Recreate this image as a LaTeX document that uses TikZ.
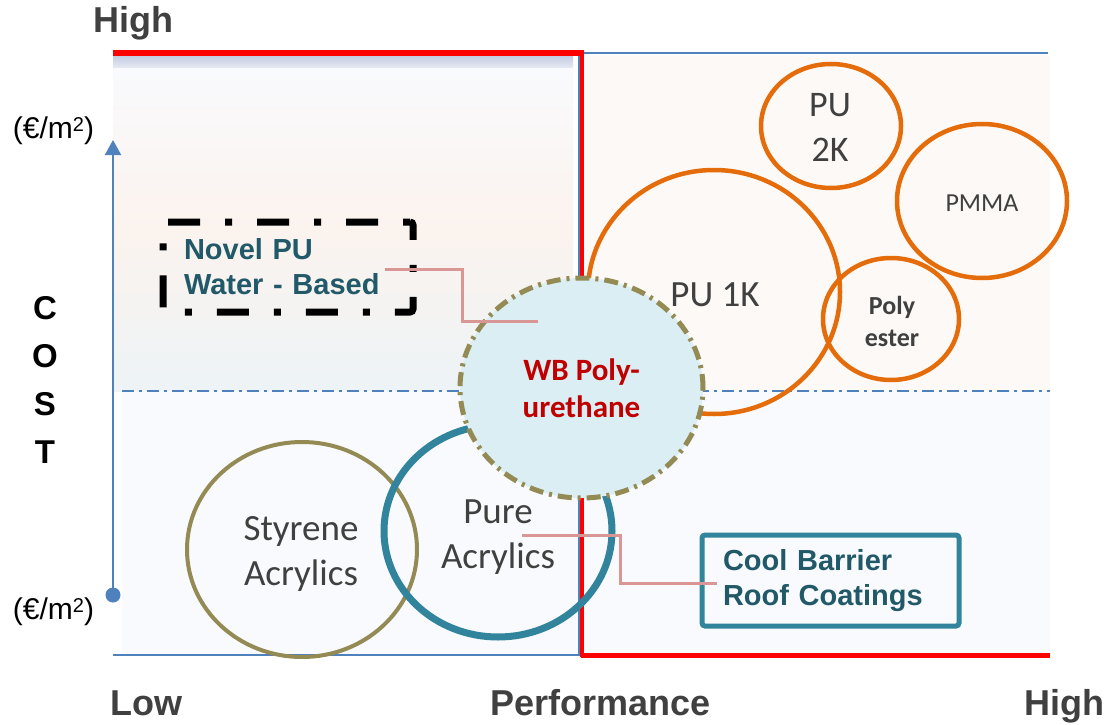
\documentclass[tikz,border=0pt]{standalone}
\usepackage{fontspec}
\setmainfont{Carlito}
\newfontfamily\arialf{Liberation Sans}
\usetikzlibrary{arrows.meta,shapes.geometric}
\definecolor{axisblue}{HTML}{4F81BD}
\definecolor{redline}{HTML}{FF0000}
\definecolor{orangec}{HTML}{E46C0A}
\definecolor{olivec}{HTML}{948A54}
\definecolor{tealc}{HTML}{31849B}
\definecolor{tealtxt}{HTML}{215968}
\definecolor{pinkc}{HTML}{D99694}
\definecolor{graytxt}{HTML}{404040}
\definecolor{wbred}{HTML}{C00000}
\definecolor{wbfill}{HTML}{DAEEF3}
\definecolor{bgtr}{HTML}{FDF9F6}
\definecolor{bgbot}{HTML}{F8FAFD}
\definecolor{bgtla}{HTML}{F9FAFD}
\definecolor{bgtlb}{HTML}{FBF3EE}
\definecolor{bgtlc}{HTML}{EDF3F6}
\definecolor{banda}{HTML}{C3CAE2}
\definecolor{bandb}{HTML}{E6EAF4}
\begin{document}
\begin{tikzpicture}[x=1pt,y=-1pt,
  bubble/.style={ellipse, draw, inner sep=0pt, outer sep=0pt},
  orangebub/.style={bubble, draw=orangec, line width=4.5pt},
  lbl/.style={inner sep=0pt, text=graytxt, align=center, font=\fontsize{37}{45}\selectfont},
  axislbl/.style={inner sep=0pt, text=graytxt, font=\arialf\bfseries\fontsize{36}{42}\selectfont},
  unitlbl/.style={inner sep=0pt, text=black, font=\arialf\fontsize{30}{36}\selectfont},
  conn/.style={draw=pinkc, line width=3pt},
  boxtxt/.style={text=tealtxt, font=\arialf\bfseries\fontsize{29}{35}\selectfont, align=left, outer sep=0pt, inner ysep=0pt},
]
\useasboundingbox (0,0) rectangle (1109,725);
\fill[white] (0,0) rectangle (1109,725);

% backgrounds
\shade[top color=bgtla, bottom color=bgtlc, middle color=bgtlb] (113,68) rectangle (573,391);
\shade[top color=banda, bottom color=bandb] (113,55) rectangle (573,68);
\fill[bgtr] (585,55) rectangle (1050,391);
\fill[bgbot] (122,391) rectangle (1050,655);

% thin blue frame lines
\draw[axisblue, line width=1.5pt] (113,655) -- (579,655) -- (579,53) -- (1048,53);
% dash-dot middle line
\draw[axisblue, line width=1.5pt, dash pattern=on 12pt off 5pt on 3pt off 5pt] (122,391) -- (1050,391);
% red lines
\draw[redline, line width=5.5pt] (113,53) -- (583.5,53);
\draw[redline, line width=3.5pt] (582,51) -- (582,657);
\draw[redline, line width=5.5pt] (580.5,655.5) -- (1050,655.5);

% cost axis
\node[circle, fill=axisblue, minimum size=15pt, inner sep=0pt] (dot) at (113,595) {};
\coordinate (axtop) at (113,140);
\draw[axisblue, line width=2pt, -{Triangle[length=15pt,width=16pt]}] (dot.center) -- (axtop);

% orange bubbles
\node[orangebub, minimum width=140pt, minimum height=124pt] (pu2k) at (831,126) {};
\node[orangebub, minimum width=170pt, minimum height=154pt] (pmma) at (982,201) {};
\node[orangebub, minimum width=252pt, minimum height=244pt] (pu1k) at (714,292) {};
\node[orangebub, minimum width=136pt, minimum height=122pt] (poly) at (891,319) {};

% acrylic bubbles
\node[bubble, draw=olivec, line width=4pt, minimum width=230pt, minimum height=215pt] (sty) at (302,549.5) {};
\node[bubble, draw=tealc, line width=7pt, minimum width=228pt, minimum height=212pt] (pure) at (498,531) {};

% boxes
\node[boxtxt, draw=black, line width=7pt, rounded corners=3pt,
      dash pattern=on 32pt off 25pt on 7pt off 25pt, dash phase=57pt,
      minimum width=250pt, minimum height=90pt, text width=208pt, inner xsep=21pt]
      (novel) at (288,267) {Novel PU\\Water - Based};
\node[boxtxt, draw=tealc, line width=5pt, rounded corners=3pt,
      minimum width=257pt, minimum height=91pt, text width=215pt, inner xsep=21pt]
      (cool) at (830.5,580.5) {Cool Barrier\\Roof Coatings};

% WB polyurethane bubble
\node[bubble, fill=wbfill, draw=olivec, line width=5pt,
      dash pattern=on 14pt off 6pt on 3pt off 6pt,
      minimum width=243pt, minimum height=220pt,
      text=wbred, font=\bfseries\fontsize{31}{37}\selectfont, align=center]
      (wb) at (581.5,388) {WB Poly-\\urethane};

% connectors
\coordinate (n1) at ([xshift=-28pt,yshift=-2pt]novel.east);
\coordinate (n2) at ([xshift=-43.5pt,yshift=67pt]wb.center);
\draw[conn] (n1) -- ++(77,0) |- (n2);
\coordinate (p1) at ([xshift=24pt,yshift=-4pt]pure.center);
\coordinate (p2) at ([xshift=15pt,yshift=-2.5pt]cool.west);
\draw[conn] (p1) -- ++(98,0) |- (p2);

% bubble labels
\node[lbl, font=\fontsize{36}{45}\selectfont] (t2k) at (830,127.5) {PU\\2K};
\node[lbl, font=\fontsize{26}{32}\selectfont] (tpmma) at (982,203.5) {PMMA};
\node[lbl] (t1k) at (715,295) {PU 1K};
\node[lbl, font=\bfseries\fontsize{26}{32}\selectfont] (tpoly) at (892,321.5) {Poly\\ester};
\node[lbl] (tsty) at (301,554) {Styrene\\Acrylics};
\node[lbl] (tpure) at (498,537.5) {Pure\\Acrylics};

% axis labels
\node[axislbl, anchor=base west] (hightop) at (93,33) {High};
\node[axislbl, anchor=base west] (low) at (110,715) {Low};
\node[axislbl, anchor=base] (perf) at (600.5,715) {Performance};
\node[axislbl, anchor=base east] (highr) at (1105,715) {High};
\node[inner sep=0pt, text=black, align=center, font=\arialf\bfseries\fontsize{33}{47.7}\selectfont] (cost) at (45,380) {C\\O\\S\\T};
\node[unitlbl, anchor=base] (unittop) at (53.5,138) {(€/m\raisebox{7pt}{\fontsize{20}{20}\selectfont 2})};
\node[unitlbl, anchor=base] (unitbot) at (53.5,619) {(€/m\raisebox{7pt}{\fontsize{20}{20}\selectfont 2})};
\end{tikzpicture}
\end{document}
